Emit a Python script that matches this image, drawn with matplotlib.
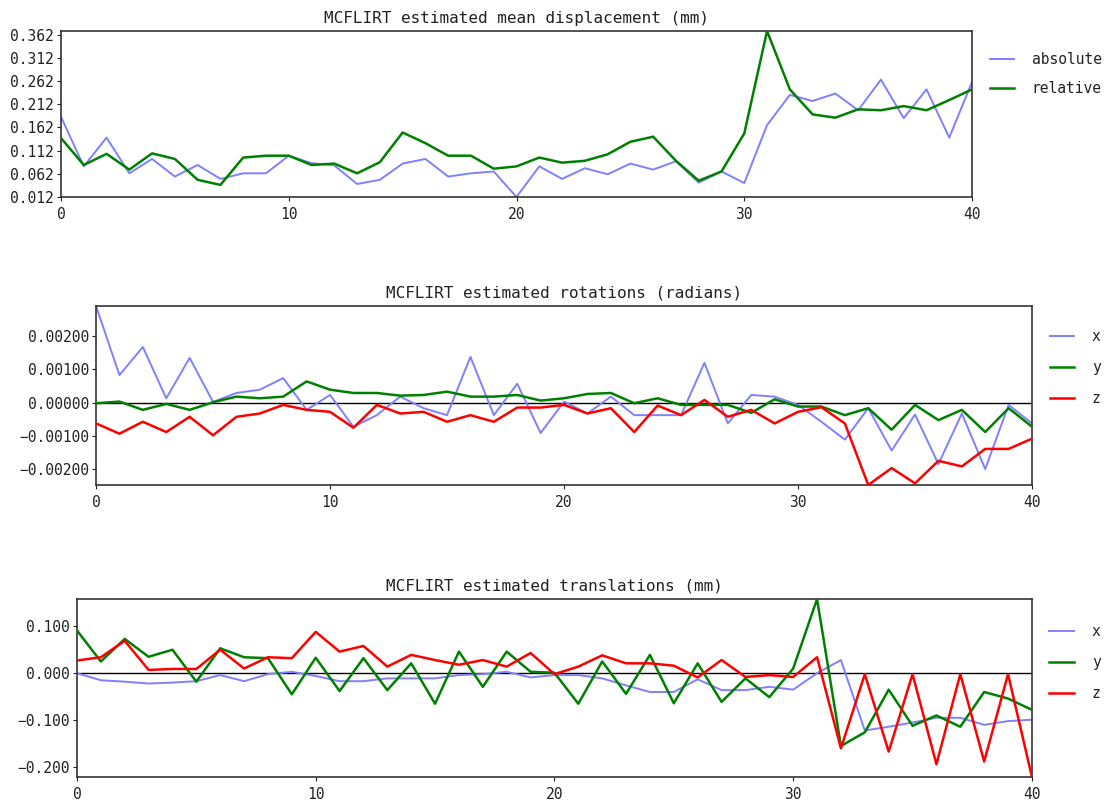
import matplotlib
matplotlib.use("Agg")
import matplotlib.pyplot as plt
from matplotlib.ticker import FuncFormatter

# Volume index for all three plots
vols = list(range(41))

# Mean displacement (mm)
disp_abs = [0.185, 0.078, 0.140, 0.063, 0.094, 0.056, 0.081, 0.051, 0.063, 0.063,
            0.101, 0.085, 0.080, 0.040, 0.049, 0.084, 0.094, 0.056, 0.063, 0.067,
            0.012, 0.078, 0.051, 0.074, 0.061, 0.084, 0.071, 0.089, 0.043, 0.067,
            0.042, 0.167, 0.232, 0.219, 0.235, 0.199, 0.265, 0.182, 0.244, 0.140,
            0.260]
disp_rel = [0.139, 0.081, 0.105, 0.071, 0.106, 0.094, 0.049, 0.038, 0.097, 0.101,
            0.101, 0.081, 0.084, 0.063, 0.087, 0.151, 0.128, 0.101, 0.101, 0.073,
            0.078, 0.097, 0.086, 0.090, 0.104, 0.131, 0.142, 0.090, 0.047, 0.067,
            0.149, 0.370, 0.244, 0.190, 0.183, 0.201, 0.199, 0.208, 0.199, 0.221,
            0.244]

# Rotations (radians)
rot_x = [0.00292, 0.00083, 0.00168, 0.00013, 0.00135, 0.00002, 0.00029, 0.00039,
         0.00074, -0.00022, 0.00023, -0.00073, -0.00038, 0.00018, -0.00017,
         -0.00038, 0.00138, -0.00038, 0.00057, -0.00092, 0.00003, -0.00033,
         0.00018, -0.00038, -0.00038, -0.00038, 0.00120, -0.00063, 0.00023,
         0.00018, -0.00007, -0.00058, -0.00112, -0.00017, -0.00145, -0.00036,
         -0.00186, -0.00033, -0.00201, -0.00007, -0.00063]
rot_y = [-0.00002, 0.00003, -0.00022, -0.00004, -0.00022, 0.00001, 0.00018,
         0.00013, 0.00018, 0.00064, 0.00039, 0.00029, 0.00029, 0.00021, 0.00023,
         0.00033, 0.00018, 0.00018, 0.00023, 0.00006, 0.00013, 0.00026, 0.00029,
         -0.00002, 0.00013, -0.00007, -0.00007, -0.00007, -0.00031, 0.00010,
         -0.00012, -0.00012, -0.00038, -0.00017, -0.00082, -0.00007, -0.00053,
         -0.00022, -0.00089, -0.00017, -0.00073]
rot_z = [-0.00063, -0.00094, -0.00058, -0.00089, -0.00043, -0.00099, -0.00043,
         -0.00033, -0.00007, -0.00022, -0.00028, -0.00076, -0.00007, -0.00033,
         -0.00028, -0.00058, -0.00038, -0.00058, -0.00015, -0.00015, -0.00007,
         -0.00033, -0.00017, -0.00089, -0.00009, -0.00038, 0.00008, -0.00043,
         -0.00022, -0.00063, -0.00028, -0.00014, -0.00063, -0.00249, -0.00198,
         -0.00244, -0.00176, -0.00193, -0.00140, -0.00140, -0.00109]

# Translations (mm)
trans_x = [-0.001, -0.016, -0.019, -0.023, -0.021, -0.018, -0.005, -0.018, -0.003,
           0.002, -0.007, -0.018, -0.018, -0.012, -0.012, -0.012, -0.005, -0.003,
           0.002, -0.010, -0.005, -0.005, -0.012, -0.027, -0.041, -0.041, -0.014,
           -0.037, -0.037, -0.030, -0.036, -0.001, 0.027, -0.123, -0.115, -0.106,
           -0.096, -0.096, -0.111, -0.103, -0.100]
trans_y = [0.090, 0.024, 0.072, 0.034, 0.049, -0.019, 0.052, 0.033, 0.031, -0.046,
           0.032, -0.039, 0.031, -0.037, 0.020, -0.066, 0.045, -0.030, 0.045, 0.002,
           0.000, -0.066, 0.024, -0.045, 0.038, -0.065, 0.020, -0.062, -0.012,
           -0.052, 0.009, 0.157, -0.156, -0.127, -0.036, -0.113, -0.091, -0.115,
           -0.041, -0.055, -0.079]
trans_z = [0.026, 0.033, 0.068, 0.006, 0.008, 0.008, 0.049, 0.009, 0.033, 0.031,
           0.087, 0.045, 0.057, 0.013, 0.038, 0.027, 0.017, 0.027, 0.013, 0.042,
           -0.003, 0.013, 0.037, 0.020, 0.020, 0.015, -0.010, 0.027, -0.009, -0.005,
           -0.009, 0.033, -0.161, -0.003, -0.168, -0.003, -0.195, -0.003, -0.189,
           -0.003, -0.222]

BLUE = "#8080ff"
GREEN = "#008000"
RED = "#ff0000"
TEXT = "#222222"
FS = 10.5

plt.rcParams["font.family"] = ["DejaVu Sans Mono"]
plt.rcParams["font.size"] = FS
plt.rcParams["text.color"] = TEXT
plt.rcParams["xtick.color"] = TEXT
plt.rcParams["ytick.color"] = TEXT

fig = plt.figure(figsize=(11.09, 8.02), dpi=100)


def style_axes(ax, title, yticks, fmt, zero_line):
    ax.set_title(title, fontsize=11.5, pad=6)
    ax.set_xlim(0, 40)
    ax.set_xticks([0, 10, 20, 30, 40])
    ax.set_yticks(yticks)
    ax.yaxis.set_major_formatter(
        FuncFormatter(lambda v, pos: fmt.format(v).replace("-", "\u2212")))
    ax.tick_params(direction="out", length=3, width=0.8, pad=2, labelsize=FS)
    ax.tick_params(axis="x", pad=4)
    for s in ax.spines.values():
        s.set_linewidth(1.2)
        s.set_color("#333333")
    if zero_line:
        ax.axhline(0, color="black", lw=1.0, zorder=1)


def add_legend(ax, y_anchor, spacing):
    ax.legend(loc="upper left", bbox_to_anchor=(1.0, y_anchor), frameon=False,
              handlelength=1.7, handletextpad=1.2, labelspacing=spacing,
              borderaxespad=0.8, fontsize=FS)


# Mean displacement
ax1 = fig.add_axes([0.0550, 0.7544, 0.8215, 0.2070])
ax1.plot(vols, disp_abs, color=BLUE, lw=1.4, label="absolute", zorder=2)
ax1.plot(vols, disp_rel, color=GREEN, lw=1.8, label="relative", zorder=3)
lo = min(disp_abs + disp_rel)
hi = max(disp_abs + disp_rel)
ax1.set_ylim(lo, hi)
style_axes(ax1, "MCFLIRT estimated mean displacement (mm)",
           [lo + 0.05 * k for k in range(8)], "{:.3f}", False)
add_legend(ax1, 0.98, 0.95)

# Rotations
ax2 = fig.add_axes([0.0866, 0.3953, 0.8440, 0.2232])
ax2.plot(vols, rot_x, color=BLUE, lw=1.4, label="x", zorder=2)
ax2.plot(vols, rot_y, color=GREEN, lw=1.8, label="y", zorder=3)
ax2.plot(vols, rot_z, color=RED, lw=1.8, label="z", zorder=4)
ax2.set_ylim(min(rot_x + rot_y + rot_z), max(rot_x + rot_y + rot_z))
style_axes(ax2, "MCFLIRT estimated rotations (radians)",
           [-0.002, -0.001, 0.0, 0.001, 0.002], "{:.5f}", True)
add_legend(ax2, 0.97, 1.1)

# Translations
ax3 = fig.add_axes([0.0694, 0.0312, 0.8611, 0.2219])
ax3.plot(vols, trans_x, color=BLUE, lw=1.4, label="x", zorder=2)
ax3.plot(vols, trans_y, color=GREEN, lw=1.8, label="y", zorder=3)
ax3.plot(vols, trans_z, color=RED, lw=1.8, label="z", zorder=4)
ax3.set_ylim(min(trans_x + trans_y + trans_z), max(trans_x + trans_y + trans_z))
style_axes(ax3, "MCFLIRT estimated translations (mm)",
           [-0.2, -0.1, 0.0, 0.1], "{:.3f}", True)
add_legend(ax3, 0.96, 1.1)

fig.savefig("out.png", dpi=100)
